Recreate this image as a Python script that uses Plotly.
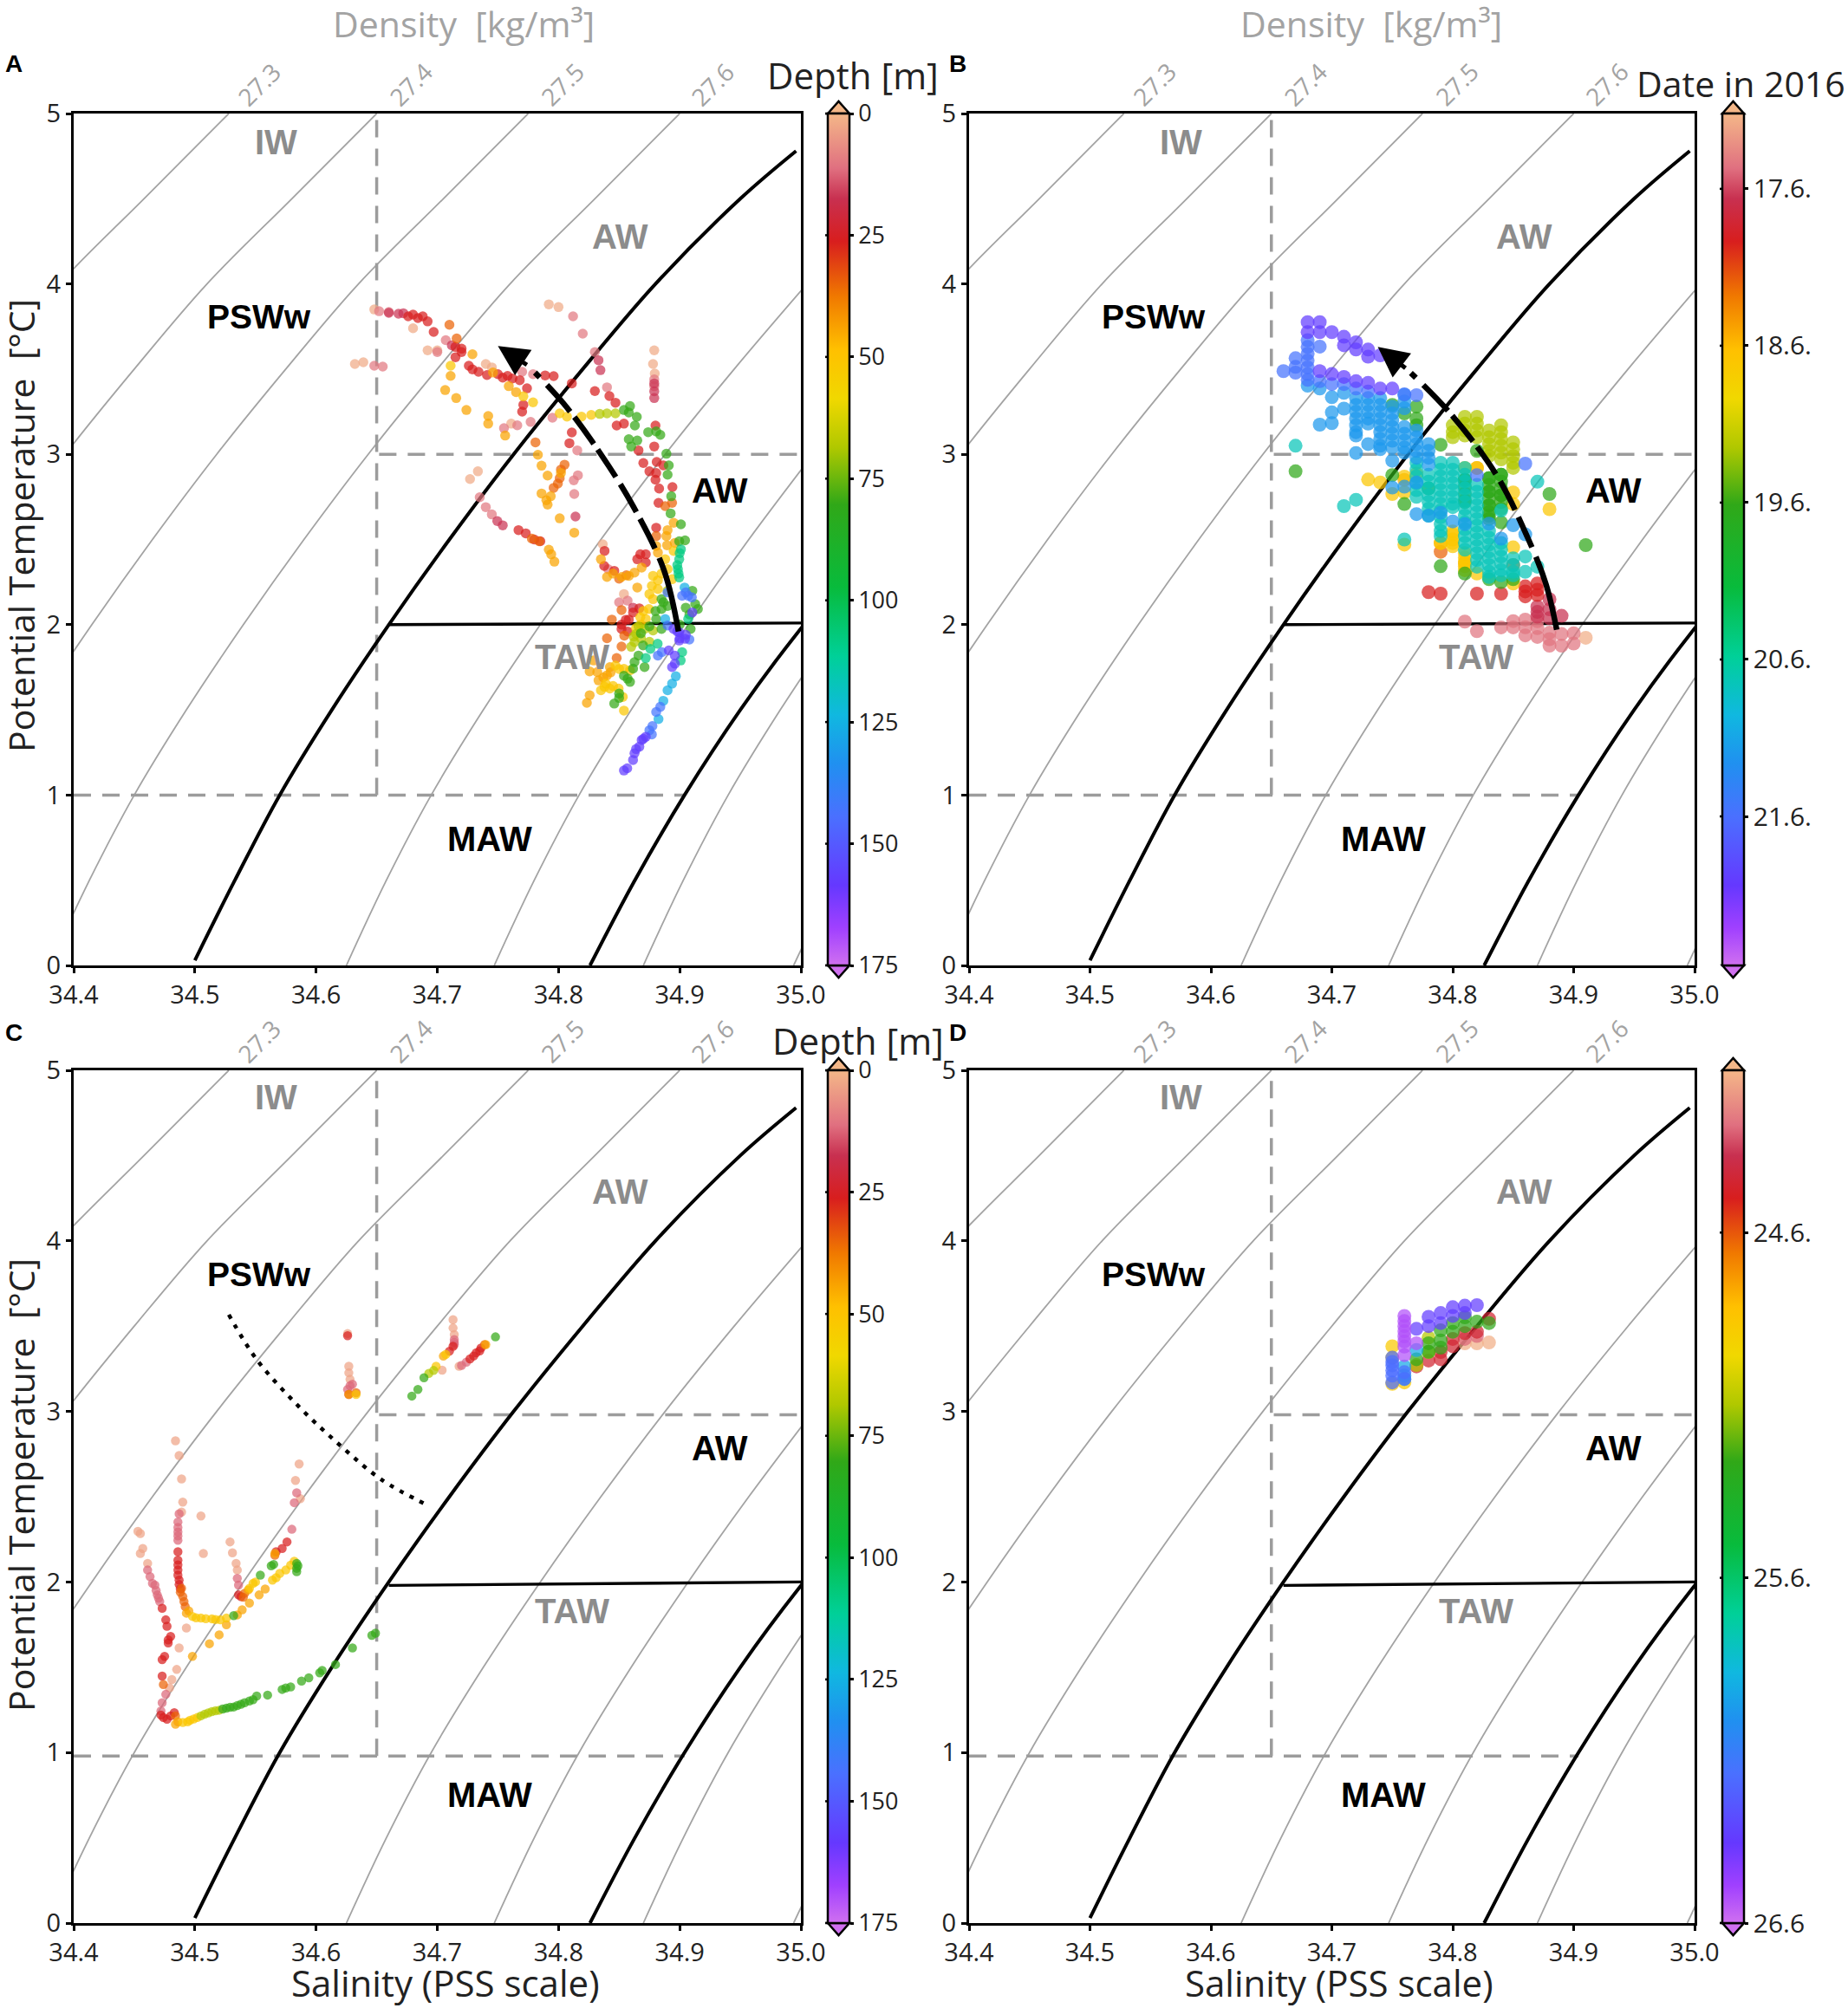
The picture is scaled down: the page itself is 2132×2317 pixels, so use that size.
import plotly.graph_objects as go
from plotly.subplots import make_subplots

W, H = 2132, 2317
TEXT_FONT = "Open Sans"
LABEL_FONT = "Liberation Sans"

# colours shared by the depth and the date colour bars, top of the bar first
BAR_FRACTIONS = [0, .064, .10, .15, .214, .277, .335, .392, .459, .556, .637, .706, .763, .825, .906, .956, 1]
BAR_COLOURS = ["#F4B788", "#E07080", "#C83050", "#D81E1E", "#F07800", "#FFC000", "#F0D800", "#B0C800", "#30A818",
               "#08BB3C", "#00D098", "#10B8E0", "#2090F0", "#4A70FF", "#6538FF", "#A040FF", "#D070F0"]

# isopycnals, read at these temperatures
ISO_T = [0, .5, 1, 1.5, 2, 2.5, 3, 3.5, 4, 4.5, 5]
GREY_S = [
    [34.008, 34.041, 34.078, 34.121, 34.168, 34.218, 34.271, 34.328, 34.388, 34.458, 34.528],
    [34.13, 34.163, 34.2, 34.243, 34.29, 34.34, 34.393, 34.45, 34.51, 34.58, 34.65],
    [34.255, 34.288, 34.325, 34.368, 34.415, 34.465, 34.518, 34.575, 34.635, 34.705, 34.775],
    [34.38, 34.413, 34.45, 34.493, 34.54, 34.59, 34.643, 34.70, 34.76, 34.83, 34.90],
    [34.625, 34.658, 34.695, 34.738, 34.785, 34.835, 34.888, 34.945, 35.005],
    [34.747, 34.78, 34.817, 34.86, 34.907, 34.957, 35.01],
    [34.87, 34.903, 34.94, 34.983, 35.03],
    [34.994, 35.027],
]
BLACK_LEFT_S = [34.5, 34.533, 34.57, 34.613, 34.66, 34.71, 34.763, 34.82, 34.88, 34.95, 34.996]
BLACK_LEFT_T = [0.03, .5, 1, 1.5, 2, 2.5, 3, 3.5, 4, 4.5, 4.78]
BLACK_RIGHT_S = [34.826, 34.863, 34.904, 34.950, 34.998, 35.05]
BLACK_RIGHT_T = [0, .5, 1, 1.5, 1.96, 2.4]
TAW_S = [34.66, 35.0]
TAW_T_TOP = [2.0, 2.01]
TAW_T_BOTTOM = [1.98, 2.0]

DENSITY_LABELS = ["27.3", "27.4", "27.5", "27.6"]
DENSITY_LABEL_S = [34.553, 34.678, 34.803, 34.927]

REGION_TEXT = ["IW", "AW", "PSWw", "AW", "TAW", "MAW"]
REGION_S_LEFT = [34.567, 34.851, 34.553, 34.933, 34.811, 34.743]
REGION_S_RIGHT = [34.575, 34.859, 34.553, 34.933, 34.819, 34.743]
REGION_T_TOP = [4.83, 4.28, 3.805, 2.785, 1.81, 0.745]
REGION_T_BOTTOM = [4.84, 4.29, 3.805, 2.785, 1.83, 0.75]
REGION_COL = ["#8c8c8c", "#8c8c8c", "black", "black", "#8c8c8c", "black"]

# panel A
A_DEPTHS = [2, 10, 17, 26, 35, 44, 51, 68, 80, 108, 126, 143, 157]
A_SAL = [
    [34.648, 34.639, 34.632, 34.792, 34.80, 34.879, 34.878, 34.8794, 34.74, 34.745, 34.761, 34.7335, 34.727, 34.8365,
     34.854, 34.68, 34.692, 34.70],
    [34.652, 34.812, 34.82, 34.707, 34.70, 34.755, 34.766, 34.777, 34.77, 34.779, 34.84, 34.795, 34.8155, 34.816,
     34.8126, 34.813, 34.735, 34.74, 34.745, 34.841, 34.857, 34.85, 34.648, 34.655, 34.83, 34.879, 34.879, 34.66],
    [34.7495, 34.754, 34.833, 34.8346, 34.66, 34.668, 34.712, 34.814, 34.8615, 34.879, 34.879, 34.879, 34.672],
    [34.676, 34.684, 34.692, 34.697, 34.72, 34.715, 34.726, 34.729, 34.734, 34.741, 34.754, 34.762, 34.768, 34.774,
     34.771, 34.77, 34.789, 34.796, 34.811, 34.83, 34.842, 34.847, 34.811, 34.809, 34.767, 34.773, 34.838, 34.8377,
     34.846, 34.8675, 34.872, 34.872, 34.865, 34.848, 34.854, 34.88, 34.879, 34.866, 34.87, 34.881, 34.8865, 34.875,
     34.8806, 34.88, 34.883, 34.894, 34.8825, 34.8806, 34.8667, 34.8555, 34.852, 34.8615, 34.68, 34.688, 34.715,
     34.72, 34.75, 34.758, 34.78, 34.785, 34.858, 34.852, 34.857],
    [34.778, 34.784, 34.7995, 34.805, 34.781, 34.796, 34.888, 34.8937, 34.8806, 34.852, 34.8543, 34.852, 34.848,
     34.844, 34.84, 34.71, 34.716, 34.801, 34.802, 34.85, 34.856],
    [34.729, 34.711, 34.7065, 34.7156, 34.724, 34.742, 34.742, 34.756, 34.746, 34.759, 34.765, 34.783, 34.786, 34.791,
     34.802, 34.7936, 34.791, 34.801, 34.813, 34.792, 34.794, 34.7966, 34.835, 34.852, 34.858, 34.8627, 34.8686,
     34.8806, 34.882, 34.865, 34.895, 34.89, 34.889, 34.8896, 34.896, 34.829, 34.8257, 34.832, 34.8424, 34.84, 34.833,
     34.8257, 34.8234, 34.837, 34.843, 34.786, 34.79, 34.84, 34.845],
    [34.711, 34.771, 34.779, 34.801, 34.807, 34.819, 34.827, 34.888, 34.89, 34.8937, 34.878, 34.877, 34.882, 34.895,
     34.8746, 34.878, 34.872, 34.8675, 34.847, 34.854, 34.859, 34.839, 34.835, 34.8424, 34.8496, 34.853, 34.854,
     34.885, 34.882, 34.875, 34.87, 34.868, 34.864, 34.85, 34.838, 34.845],
    [34.834, 34.84, 34.847, 34.89, 34.878, 34.871, 34.864, 34.8627, 34.868, 34.862, 34.875, 34.86, 34.866],
    [34.854, 34.859, 34.858, 34.8646, 34.863, 34.874, 34.8806, 34.884, 34.858, 34.865, 34.86, 34.889, 34.891, 34.89,
     34.893, 34.8925, 34.901, 34.8996, 34.9044, 34.9104, 34.9128, 34.915, 34.909, 34.8865, 34.885, 34.8806, 34.885,
     34.8698, 34.866, 34.8627, 34.85, 34.846, 34.8615, 34.857, 34.859, 34.871, 34.885, 34.89, 34.88, 34.875, 34.868,
     34.905, 34.908, 34.90, 34.854, 34.85],
    [34.901, 34.8996, 34.8985, 34.8996, 34.907, 34.872, 34.8758, 34.8818, 34.902, 34.9008, 34.90, 34.898, 34.899],
    [34.904, 34.888, 34.8968, 34.8937, 34.89, 34.8865, 34.8825],
    [34.902, 34.907, 34.89, 34.908, 34.882, 34.8853, 34.884, 34.8806, 34.8775, 34.877, 34.89, 34.905, 34.91, 34.875],
    [34.9104, 34.8949, 34.8996, 34.9044, 34.8996, 34.891, 34.896, 34.896, 34.8937, 34.872, 34.8686, 34.8667, 34.8627,
     34.8615, 34.8567, 34.854, 34.898, 34.905, 34.90, 34.864, 34.87],
]
A_THETA = [
    [3.85, 3.54, 3.53, 3.88, 3.864, 3.61, 3.53, 3.474, 3.53, 3.51, 3.18, 2.90, 2.855, 2.472, 2.18, 3.74, 3.61, 3.61],
    [3.84, 3.81, 3.708, 3.67, 3.60, 3.153, 3.17, 3.19, 3.484, 3.47, 3.393, 3.215, 3.023, 2.877, 2.847, 2.767, 2.748,
     2.69, 2.647, 2.326, 2.141, 2.131, 3.52, 3.515, 3.60, 3.44, 3.40, 3.835],
    [2.608, 2.583, 3.552, 3.494, 3.83, 3.825, 3.64, 2.635, 2.10, 3.416, 3.37, 3.33, 3.828],
    [3.81, 3.80, 3.78, 3.718, 3.62, 3.57, 3.52, 3.498, 3.484, 3.465, 3.45, 3.445, 3.435, 3.387, 3.29, 3.25, 3.463,
     3.459, 3.416, 3.371, 3.342, 3.303, 3.128, 3.065, 2.555, 2.536, 2.433, 2.345, 2.316, 2.413, 2.413, 2.365, 2.384,
     3.169, 3.18, 3.169, 3.046, 3.023, 2.949, 2.955, 2.935, 2.90, 2.89, 2.851, 2.799, 2.808, 2.715, 2.569, 2.096,
     2.028, 1.975, 2.072, 3.82, 3.81, 3.63, 3.60, 3.47, 3.46, 2.50, 2.49, 2.03, 2.0, 1.96],
    [2.505, 2.49, 2.828, 2.939, 3.07, 2.803, 2.696, 2.715, 2.52, 2.086, 1.936, 1.872, 1.804, 2.03, 1.92, 3.76, 3.68,
     2.86, 2.91, 2.27, 2.29],
    [3.587, 3.46, 3.377, 3.33, 3.26, 3.225, 3.18, 3.11, 3.48, 3.40, 3.365, 2.997, 2.933, 2.875, 2.89, 2.754, 2.705,
     2.624, 2.54, 2.44, 2.413, 2.37, 2.384, 2.28, 2.287, 2.306, 2.335, 2.462, 2.423, 2.218, 2.598, 2.555, 2.52, 2.466,
     2.48, 1.79, 1.726, 1.722, 1.751, 1.703, 1.673, 1.586, 1.541, 1.69, 1.72, 2.77, 2.73, 2.28, 2.30],
    [3.52, 3.34, 3.305, 3.24, 3.221, 3.221, 3.231, 2.384, 2.326, 2.267, 2.287, 2.228, 2.209, 2.433, 2.092, 2.15, 2.033,
     2.043, 1.76, 1.741, 1.732, 1.654, 1.615, 1.625, 1.625, 1.576, 1.496, 2.30, 2.26, 2.18, 2.08, 2.00, 1.98, 1.74,
     1.635, 1.64],
    [3.237, 3.24, 3.24, 2.199, 1.966, 1.975, 1.946, 1.897, 1.92, 1.93, 1.90, 1.87, 1.99],
    [3.26, 3.283, 3.245, 3.22, 3.169, 3.13, 3.134, 3.114, 3.089, 3.081, 3.046, 3.003, 2.935, 2.88, 2.754, 2.653, 2.589,
     2.49, 2.495, 2.199, 2.121, 2.092, 1.975, 2.131, 2.092, 2.033, 1.975, 1.878, 1.819, 1.78, 1.596, 1.537, 1.742,
     1.683, 1.664, 1.751, 2.15, 2.11, 2.08, 1.99, 1.95, 2.10, 2.06, 2.0, 1.70, 1.57],
    [2.442, 2.384, 2.326, 2.277, 2.033, 1.804, 1.858, 1.888, 1.839, 1.79, 2.42, 2.35, 2.30],
    [2.218, 2.033, 1.697, 1.654, 1.615, 1.553, 1.446],
    [2.17, 2.17, 1.995, 1.913, 1.819, 1.839, 1.518, 1.488, 1.405, 1.356, 2.19, 2.19, 2.16, 1.38],
    [2.072, 1.975, 1.956, 1.917, 1.907, 1.849, 1.819, 1.771, 1.751, 1.342, 1.323, 1.284, 1.245, 1.206, 1.157, 1.144,
     1.96, 1.94, 1.92, 1.27, 1.33],
]

# panel B, date in June 2016 for each colour group
B_DATES = [17.17, 17.45, 17.66, 17.93, 18.2, 18.5, 18.7, 19.24, 19.62, 20.75, 21.2, 21.57, 22.0]
B_SAL = [
    [34.91],
    [34.81, 34.82, 34.84, 34.85, 34.85, 34.86, 34.86, 34.87, 34.87, 34.88, 34.88, 34.89, 34.89, 34.90, 34.90, 34.86,
     34.87, 34.88],
    [34.87, 34.87, 34.88, 34.88, 34.88, 34.89, 34.87],
    [34.78, 34.79, 34.82, 34.84, 34.86, 34.86, 34.87, 34.87, 34.86, 34.87],
    [34.79, 34.85],
    [34.79, 34.81, 34.82, 34.76],
    [34.73, 34.74, 34.75, 34.76, 34.76, 34.77, 34.79, 34.80, 34.80, 34.81, 34.81, 34.81, 34.82, 34.82, 34.85, 34.85,
     34.88, 34.76, 34.85, 34.85, 34.81, 34.81, 34.81, 34.80, 34.80, 34.80],
    [34.80, 34.80, 34.80,
     34.81, 34.81, 34.81, 34.81,
     34.82, 34.82, 34.82, 34.82,
     34.83, 34.83, 34.83, 34.83, 34.83,
     34.84, 34.84, 34.84, 34.84, 34.84, 34.84,
     34.85, 34.85, 34.85, 34.85, 34.85],
    [34.76, 34.75, 34.77, 34.77, 34.77, 34.79, 34.67, 34.75, 34.76, 34.78, 34.81, 34.81, 34.83, 34.83, 34.83, 34.83,
     34.84, 34.84, 34.84, 34.79, 34.81, 34.83, 34.84, 34.85, 34.88, 34.91, 34.82,
     34.83, 34.83, 34.83, 34.83, 34.83, 34.83, 34.83,
     34.84, 34.84, 34.84, 34.84, 34.84, 34.84,
     34.81, 34.81, 34.81, 34.81],
    [34.67, 34.72, 34.71, 34.87, 34.76, 34.86, 34.86, 34.87,
     34.77, 34.77, 34.77, 34.77, 34.77, 34.77,
     34.78, 34.78, 34.78, 34.78, 34.78, 34.78, 34.78,
     34.79, 34.79, 34.79, 34.79, 34.79, 34.79, 34.79, 34.79, 34.79, 34.79, 34.79, 34.79,
     34.80, 34.80, 34.80, 34.80, 34.80, 34.80, 34.80, 34.80,
     34.81, 34.81, 34.81, 34.81, 34.81, 34.81, 34.81, 34.81, 34.81, 34.81, 34.81, 34.81, 34.81,
     34.82, 34.82, 34.82, 34.82, 34.82, 34.82, 34.82, 34.82, 34.82, 34.82, 34.82, 34.82, 34.82,
     34.83, 34.83, 34.83, 34.83, 34.83, 34.83, 34.83, 34.83,
     34.84, 34.84, 34.84, 34.84, 34.84, 34.84, 34.84,
     34.85, 34.85, 34.85, 34.85],
    [34.68, 34.69, 34.70, 34.71, 34.71, 34.70, 34.70, 34.69, 34.72, 34.75, 34.76, 34.75, 34.77, 34.77, 34.78, 34.79,
     34.80, 34.81, 34.83, 34.85, 34.86, 34.84,
     34.72, 34.72, 34.72, 34.72, 34.72, 34.72, 34.72,
     34.73, 34.73, 34.73, 34.73, 34.73, 34.73,
     34.74, 34.74, 34.74, 34.74, 34.74, 34.74, 34.74, 34.74, 34.74,
     34.75, 34.75, 34.75, 34.75, 34.75, 34.75, 34.75,
     34.76, 34.76, 34.76, 34.76, 34.76, 34.76, 34.76, 34.76,
     34.77, 34.77, 34.77, 34.77, 34.77,
     34.78, 34.78, 34.78, 34.78],
    [34.68, 34.68, 34.68, 34.68, 34.68, 34.68, 34.69, 34.67, 34.67, 34.66, 34.67, 34.68, 34.69, 34.70, 34.71, 34.72,
     34.73, 34.76, 34.77, 34.86, 34.82],
    [34.68, 34.69, 34.68, 34.69, 34.70, 34.71, 34.71, 34.72, 34.72, 34.73, 34.73, 34.74, 34.69, 34.70, 34.71, 34.72,
     34.73, 34.74, 34.75],
]
B_THETA = [
    [1.923],
    [2.018, 1.962, 1.984, 2.021, 1.984, 2.03, 1.937, 2.02, 1.928, 1.953, 1.877, 1.945, 1.877, 1.95, 1.889, 1.985, 1.98,
     1.915],
    [2.106, 2.047, 2.149, 2.09, 2.038, 2.052, 2.075],
    [2.191, 2.182, 2.182, 2.182, 2.225, 2.166, 2.242, 2.174, 2.195, 2.205],
    [2.428, 2.35],
    [2.479, 2.36, 2.92, 2.85],
    [2.852, 2.835, 2.767, 2.869, 2.776, 2.886, 2.479, 2.547, 2.479, 2.92, 2.394, 2.343, 2.92, 2.30, 2.776, 2.708,
     2.678, 2.47, 2.242, 2.454, 2.37, 2.42, 2.32, 2.53, 2.50, 2.46],
    [3.17, 3.13, 3.10,
     3.22, 3.18, 3.14, 3.11,
     3.22, 3.18, 3.14, 3.10,
     3.14, 3.10, 3.06, 3.02, 2.99,
     3.17, 3.13, 3.09, 3.05, 3.01, 2.97,
     3.07, 3.03, 2.99, 2.95, 2.92],
    [3.24, 3.29, 3.28, 3.21, 3.17, 3.056, 2.90, 2.878, 2.708, 2.80, 2.85, 2.72, 2.86, 2.78, 2.70, 2.64, 2.88, 2.76,
     2.60, 2.343, 2.30, 2.267, 2.25, 2.267, 2.767, 2.467, 3.02,
     2.86, 2.82, 2.78, 2.74, 2.70, 2.66, 2.62,
     2.88, 2.84, 2.80, 2.76, 2.72, 2.68,
     2.85, 2.81, 2.77, 2.73],
    [3.05, 2.733, 2.696, 2.839, 2.50, 2.40, 2.31, 2.34,
     2.95, 2.91, 2.87, 2.83, 2.79, 2.75,
     2.88, 2.84, 2.80, 2.76, 2.72, 2.68, 2.64,
     2.95, 2.91, 2.87, 2.83, 2.79, 2.75, 2.71, 2.67, 2.63, 2.59, 2.55, 2.52,
     2.95, 2.91, 2.87, 2.83, 2.79, 2.75, 2.71, 2.69,
     2.92, 2.88, 2.84, 2.80, 2.76, 2.72, 2.68, 2.64, 2.60, 2.56, 2.52, 2.48, 2.44,
     2.82, 2.78, 2.74, 2.70, 2.66, 2.62, 2.58, 2.54, 2.50, 2.46, 2.42, 2.38, 2.34,
     2.55, 2.51, 2.47, 2.43, 2.39, 2.35, 2.31, 2.28,
     2.67, 2.48, 2.44, 2.40, 2.36, 2.32, 2.29,
     2.39, 2.35, 2.31, 2.29],
    [3.403, 3.386, 3.335, 3.361, 3.268, 3.246, 3.183, 3.174, 3.008, 2.962, 2.81, 2.805, 2.835, 2.649, 2.64, 2.657,
     2.606, 2.59, 2.593, 2.584, 2.53, 2.505,
     3.33, 3.29, 3.25, 3.21, 3.17, 3.13, 3.11,
     3.33, 3.29, 3.25, 3.21, 3.18, 3.06,
     3.33, 3.29, 3.25, 3.21, 3.17, 3.13, 3.09, 3.05, 3.03,
     3.28, 3.24, 3.20, 3.16, 3.12, 3.08, 3.04,
     3.35, 3.31, 3.27, 3.16, 3.12, 3.08, 3.04, 3.01,
     3.14, 3.10, 3.06, 3.02, 2.98,
     3.06, 3.02, 2.98, 2.94],
    [3.67, 3.63, 3.59, 3.55, 3.51, 3.47, 3.632, 3.564, 3.513, 3.488, 3.479, 3.437, 3.429, 3.412, 3.412, 3.386, 3.369,
     3.352, 3.347, 2.945, 2.878],
    [3.776, 3.776, 3.717, 3.717, 3.717, 3.69, 3.64, 3.657, 3.615, 3.615, 3.573, 3.581, 3.488, 3.471, 3.454, 3.429, 3.42,
     3.386, 3.386],
]

# panel C
C_DEPTHS = [3, 12, 26, 35, 44, 51, 68, 80]
C_SAL = [
    [34.626, 34.627, 34.627, 34.628, 34.713, 34.713, 34.714, 34.704, 34.718, 34.484, 34.487, 34.489, 34.49, 34.489,
     34.505, 34.453, 34.455, 34.457, 34.455, 34.507, 34.529, 34.531, 34.586, 34.583, 34.587, 34.534, 34.535, 34.493,
     34.487, 34.485, 34.481, 34.479, 34.461],
    [34.461, 34.463, 34.465, 34.626, 34.63, 34.714, 34.714, 34.72, 34.724, 34.487, 34.486, 34.486, 34.486, 34.584,
     34.582, 34.58, 34.535, 34.536, 34.467, 34.469, 34.471, 34.476, 34.473, 34.472, 34.486, 34.486, 34.468, 34.47,
     34.628, 34.714],
    [34.626, 34.713, 34.71, 34.727, 34.732, 34.736, 34.627, 34.486, 34.486, 34.486, 34.487, 34.486, 34.473, 34.476,
     34.477, 34.48, 34.478, 34.475, 34.473, 34.473, 34.474, 34.477, 34.483, 34.567, 34.572, 34.576, 34.536, 34.538,
     34.486, 34.487, 34.488, 34.478, 34.73, 34.735, 34.472, 34.48],
    [34.489, 34.49, 34.492, 34.474, 34.484, 34.541, 34.566, 34.633, 34.739, 34.488, 34.491, 34.54],
    [34.493, 34.484, 34.498, 34.512, 34.52, 34.526, 34.535, 34.539, 34.545, 34.553, 34.558, 34.627, 34.74, 34.566,
     34.544, 34.705, 34.495, 34.486],
    [34.498, 34.505, 34.514, 34.521, 34.526, 34.49, 34.496, 34.502, 34.548, 34.545, 34.564, 34.567, 34.575, 34.579,
     34.582, 34.633, 34.707, 34.699, 34.501, 34.509, 34.517, 34.494, 34.499, 34.55, 34.57],
    [34.508, 34.514, 34.52, 34.693, 34.505, 34.511, 34.517, 34.697],
    [34.526, 34.532, 34.538, 34.545, 34.551, 34.56, 34.572, 34.579, 34.588, 34.594, 34.603, 34.605, 34.616, 34.63,
     34.646, 34.649, 34.532, 34.554, 34.563, 34.565, 34.584, 34.584, 34.689, 34.684, 34.679, 34.748, 34.523, 34.529,
     34.535, 34.541, 34.548, 34.575, 34.585, 34.584],
]
C_THETA = [
    [3.456, 3.265, 3.226, 3.188, 3.538, 3.489, 3.45, 3.242, 3.265, 2.828, 2.741, 2.604, 2.468, 2.41, 2.387, 2.297, 2.284,
     2.196, 2.167, 2.167, 2.235, 2.171, 2.692, 2.595, 2.488, 2.109, 2.07, 1.73, 1.613, 1.487, 1.428, 1.38, 2.109],
    [2.07, 2.031, 1.992, 3.129, 3.159, 3.421, 3.392, 3.27, 3.289, 2.40, 2.352, 2.293, 2.245, 2.523, 2.465, 2.309, 2.021,
     1.982, 1.982, 1.924, 1.885, 1.341, 1.292, 1.244, 2.32, 2.27, 1.95, 1.905, 3.15, 3.405],
    [3.444, 3.382, 3.353, 3.308, 3.343, 3.372, 3.1, 2.177, 2.128, 2.07, 2.011, 2.10, 1.846, 1.778, 1.74, 1.681, 1.642,
     1.564, 1.545, 1.448, 1.205, 1.195, 1.234, 2.177, 2.196, 2.235, 1.924, 1.914, 2.04, 1.985, 1.96, 1.66, 3.325, 3.355,
     1.22, 1.215],
    [1.963, 1.914, 1.856, 1.399, 1.215, 1.934, 2.157, 3.11, 3.392, 1.94, 1.885, 1.91],
    [1.817, 1.166, 1.564, 1.638, 1.69, 1.749, 1.807, 1.837, 1.876, 1.924, 1.959, 3.1, 3.392, 2.167, 1.953, 3.324, 1.83,
     1.18],
    [1.798, 1.788, 1.784, 1.778, 1.788, 1.176, 1.189, 1.205, 1.992, 1.963, 2.011, 2.025, 2.07, 2.099, 2.122, 3.1, 3.334,
     3.265, 1.79, 1.785, 1.78, 1.18, 1.197, 2.0, 2.05],
    [1.224, 1.24, 1.248, 3.223, 1.215, 1.232, 1.245, 3.24],
    [1.26, 1.267, 1.283, 1.302, 1.331, 1.337, 1.37, 1.385, 1.419, 1.438, 1.467, 1.481, 1.516, 1.613, 1.687, 1.70, 1.803,
     2.04, 2.095, 2.103, 2.08, 2.109, 3.197, 3.129, 3.09, 3.437, 1.255, 1.265, 1.275, 1.292, 1.31, 1.378, 2.095, 2.06],
]

# panel D
D_DATES = [24.15, 24.3, 24.45, 24.87, 25.09, 25.27, 25.93, 26.18, 26.35, 26.53]
D_SAL = [
    [34.81, 34.82, 34.83],
    [34.81, 34.82],
    [34.77, 34.78, 34.79, 34.79, 34.80, 34.80, 34.81, 34.82, 34.83],
    [34.75, 34.75, 34.75, 34.76],
    [34.77, 34.78, 34.78],
    [34.77, 34.78, 34.78, 34.79, 34.79, 34.79, 34.80, 34.80, 34.81, 34.81, 34.82, 34.83],
    [34.76, 34.76, 34.76, 34.77],
    [34.75, 34.75, 34.75, 34.75, 34.75, 34.75, 34.76, 34.76],
    [34.77, 34.78, 34.78, 34.79, 34.79, 34.80, 34.80, 34.81, 34.81, 34.82],
    [34.76, 34.76, 34.76, 34.76, 34.76, 34.76, 34.76, 34.76, 34.77],
]
D_THETA = [
    [3.399, 3.399, 3.404],
    [3.425, 3.442],
    [3.264, 3.298, 3.306, 3.348, 3.382, 3.425, 3.459, 3.467, 3.543],
    [3.382, 3.315, 3.162, 3.17],
    [3.272, 3.433, 3.348],
    [3.306, 3.40, 3.35, 3.475, 3.416, 3.374, 3.518, 3.467, 3.552, 3.50, 3.526, 3.518],
    [3.264, 3.21, 3.19, 3.36],
    [3.315, 3.29, 3.27, 3.24, 3.21, 3.17, 3.19, 3.23],
    [3.484, 3.555, 3.50, 3.577, 3.518, 3.611, 3.56, 3.62, 3.577, 3.623],
    [3.56, 3.53, 3.50, 3.47, 3.44, 3.41, 3.38, 3.33, 3.40],
]

# flow arrows and the dotted divide in panel C
ARROW_A_S = [34.899, 34.887, 34.862, 34.835, 34.804, 34.775]
ARROW_A_T = [1.96, 2.32, 2.69, 3.0, 3.3, 3.52]
ARROW_B_S = [34.886, 34.877, 34.862, 34.836, 34.798, 34.762]
ARROW_B_T = [1.97, 2.24, 2.51, 2.88, 3.24, 3.5]
DIVIDE_S = [34.528, 34.551, 34.585, 34.62, 34.654, 34.692]
DIVIDE_T = [3.567, 3.304, 3.034, 2.8, 2.6, 2.45]

DEPTH_TICKS = [0, 25, 50, 75, 100, 125, 150, 175]
DATE_B_TICKS = [17.6, 18.6, 19.6, 20.6, 21.6]
DATE_B_TEXT = ["17.6.", "18.6.", "19.6.", "20.6.", "21.6."]
DATE_D_TICKS = [24.6, 25.6, 26.6]
DATE_D_TEXT = ["24.6.", "25.6.", "26.6"]

# plot boxes in pixels: left, right, top, bottom
BOXES = [(85, 924, 131, 1114), (1118, 1955, 131, 1114), (85, 924, 1235, 2219), (1118, 1955, 1235, 2219)]
BARS = [(955, 131, 1114), (1987, 131, 1114), (955, 1235, 2219), (1987, 1235, 2219)]

fig = make_subplots(rows=2, cols=2)
colorscale = [[round(1 - f, 3), c] for f, c in zip(BAR_FRACTIONS, BAR_COLOURS)][::-1]


def flat(values, groups):
    # one value per point from the per-colour lists
    out = []
    for v, g in zip(values, groups):
        out.extend([v] * len(g))
    return out


def merge(groups):
    return [x for g in groups for x in g]


def add_frame(row, col, dash_low, dash_high, taw_t):
    kw = dict(row=row, col=col)
    grey = dict(mode="lines", hoverinfo="skip", showlegend=False, line=dict(color="#a3a3a3", width=1.8, shape="spline"))
    for s in GREY_S:
        fig.add_trace(go.Scatter(x=s, y=ISO_T[:len(s)], **grey), **kw)
    dash = dict(mode="lines", hoverinfo="skip", showlegend=False, line=dict(color="#9c9c9c", width=3.5, dash="20px,13px"))
    fig.add_trace(go.Scatter(x=[34.65, 34.65], y=[dash_low, 5], **dash), **kw)
    fig.add_trace(go.Scatter(x=[34.652, 35.0], y=[dash_high, dash_high], **dash), **kw)
    fig.add_trace(go.Scatter(x=[34.4, 34.904], y=[dash_low, dash_low], **dash), **kw)
    black = dict(mode="lines", hoverinfo="skip", showlegend=False, line=dict(color="black", width=4, shape="spline"))
    fig.add_trace(go.Scatter(x=BLACK_LEFT_S, y=BLACK_LEFT_T, **black), **kw)
    fig.add_trace(go.Scatter(x=BLACK_RIGHT_S, y=BLACK_RIGHT_T, **black), **kw)
    fig.add_trace(go.Scatter(x=TAW_S, y=taw_t, mode="lines", hoverinfo="skip", showlegend=False,
                             line=dict(color="black", width=3.4)), **kw)


def add_points(row, col, sal, theta, colour, size, vmin, vmax, ticks, ticktext, bar, font_size):
    assert len(sal) == len(theta) == len(colour)
    x0, top, bottom = bar
    fig.add_trace(go.Scatter(
        x=sal, y=theta, mode="markers", showlegend=False,
        marker=dict(
            size=size, color=[-c for c in colour], opacity=0.72, colorscale=colorscale,
            cmin=-vmax, cmax=-vmin, showscale=True, line=dict(width=0),
            colorbar=dict(
                x=x0 / W, xanchor="left", xpad=0, y=1 - top / H, yanchor="top", ypad=0,
                len=(bottom - top) / H, lenmode="fraction", thickness=25, thicknessmode="pixels",
                outlinecolor="black", outlinewidth=2.5, ticks="outside", ticklen=4, tickwidth=2.5, tickcolor="black",
                tickvals=[-t for t in ticks], ticktext=ticktext,
                tickfont=dict(family=TEXT_FONT, size=font_size, color="#222222"),
            ),
        ),
    ), row=row, col=col)
    # the bar ticks also show on the left edge
    for t in ticks:
        y = 1 - (top + (t - vmin) / (vmax - vmin) * (bottom - top)) / H
        fig.add_shape(type="line", xref="paper", yref="paper", x0=(x0 - 3) / W, x1=(x0 + 6) / W, y0=y, y1=y,
                      line=dict(color="black", width=2.5))


def add_arrow(row, col, sal, theta, tip):
    fig.add_trace(go.Scatter(
        x=sal, y=theta, mode="lines", hoverinfo="skip", showlegend=False,
        line=dict(color="black", width=6.5, shape="spline",
                  dash="88px,12px,38px,9px,37px,10px,38px,8px,38px,8px,41px,12px,8px,200px"),
    ), row=row, col=col)
    n = (row - 1) * 2 + col
    ref = "" if n == 1 else str(n)
    fig.add_annotation(x=tip[0], y=tip[1], ax=sal[-1], ay=theta[-1], xref="x" + ref, yref="y" + ref,
                       axref="x" + ref, ayref="y" + ref, text="", showarrow=True, arrowhead=2, arrowsize=1.4,
                       arrowwidth=5, arrowcolor="black")


add_frame(1, 1, 1.0, 3.0, TAW_T_TOP)
add_frame(1, 2, 1.0, 3.0, TAW_T_TOP)
add_frame(2, 1, 0.98, 2.98, TAW_T_BOTTOM)
add_frame(2, 2, 0.98, 2.98, TAW_T_BOTTOM)

add_points(1, 1, merge(A_SAL), merge(A_THETA), flat(A_DEPTHS, A_SAL), 11.5, 0, 175, DEPTH_TICKS,
           [str(t) for t in DEPTH_TICKS], BARS[0], 27)
add_points(1, 2, merge(B_SAL), merge(B_THETA), flat(B_DATES, B_SAL), 16, 17.12, 22.55, DATE_B_TICKS, DATE_B_TEXT,
           BARS[1], 30)
add_points(2, 1, merge(C_SAL), merge(C_THETA), flat(C_DEPTHS, C_SAL), 10.5, 0, 175, DEPTH_TICKS,
           [str(t) for t in DEPTH_TICKS], BARS[2], 27)
add_points(2, 2, merge(D_SAL), merge(D_THETA), flat(D_DATES, D_SAL), 16, 24.13, 26.6, DATE_D_TICKS, DATE_D_TEXT,
           BARS[3], 30)

add_arrow(1, 1, ARROW_A_S, ARROW_A_T, (34.75, 3.636))
add_arrow(1, 2, ARROW_B_S, ARROW_B_T, (34.738, 3.63))
fig.add_trace(go.Scatter(x=DIVIDE_S, y=DIVIDE_T, mode="lines", hoverinfo="skip", showlegend=False,
                         line=dict(color="black", width=4.5, shape="spline", dash="5px,8px")), row=2, col=1)


def page_text(x, y, text, size, colour="#222222", family=TEXT_FONT, angle=0):
    fig.add_annotation(x=x / W, y=1 - y / H, xref="paper", yref="paper", xanchor="center", yanchor="middle",
                       text=text, showarrow=False, textangle=angle, font=dict(family=family, size=size, color=colour))


# axes
for n, (left, right, top, bottom) in enumerate(BOXES, start=1):
    ref = "" if n == 1 else str(n)
    common = dict(showgrid=False, zeroline=False, showline=True, mirror=True, linecolor="black", linewidth=3,
                  ticks="outside", ticklen=6, tickwidth=2.5, tickcolor="black",
                  tickfont=dict(family=TEXT_FONT, size=29, color="#222222"))
    fig.layout["xaxis" + ref].update(domain=[left / W, right / W], range=[34.4, 35.0], tickmode="array",
                                     tickvals=[34.4, 34.5, 34.6, 34.7, 34.8, 34.9, 35.0], tickformat=".1f", **common)
    fig.layout["yaxis" + ref].update(domain=[1 - bottom / H, 1 - top / H], range=[0, 5], tickmode="array",
                                     tickvals=[0, 1, 2, 3, 4, 5], **common)
    xr, yr = "x" + ref, "y" + ref
    region_s = REGION_S_LEFT if n % 2 else REGION_S_RIGHT
    region_t = REGION_T_TOP if n < 3 else REGION_T_BOTTOM
    for text, s, t, colour in zip(REGION_TEXT, region_s, region_t, REGION_COL):
        fig.add_annotation(x=s, y=t, xref=xr, yref=yr, text="<b>%s</b>" % text, showarrow=False,
                           font=dict(family=LABEL_FONT, size=39 if text == "PSWw" else 40, color=colour))
    # above the frame, so placed on the page and not on the axis
    for text, s in zip(DENSITY_LABELS, DENSITY_LABEL_S):
        page_text(left + (s - 34.4) / 0.6 * (right - left), top - 34, text, 28, "#a3a3a3", angle=-45)

    # extend triangles on the colour bars
    bar_x, bar_top, bar_bottom = BARS[n - 1]
    bx0, bxm, bx1 = bar_x / W, (bar_x + 12.5) / W, (bar_x + 25) / W
    ty, tt = 1 - bar_top / H, 1 - (bar_top - 14) / H
    by, bb = 1 - bar_bottom / H, 1 - (bar_bottom + 14) / H
    fig.add_shape(type="path", xref="paper", yref="paper", fillcolor="#F4B788", line=dict(color="black", width=2.5),
                  path="M %f %f L %f %f L %f %f Z" % (bx0, ty, bxm, tt, bx1, ty))
    fig.add_shape(type="path", xref="paper", yref="paper", fillcolor="#D070F0", line=dict(color="black", width=2.5),
                  path="M %f %f L %f %f L %f %f Z" % (bx0, by, bxm, bb, bx1, by))

page_text(535, 27, "Density  [kg/m³]", 41, "#a3a3a3")
page_text(1582, 27, "Density  [kg/m³]", 41, "#a3a3a3")
page_text(984, 87, "Depth [m]", 42)
page_text(2008, 96, "Date in 2016", 41)
page_text(990, 1200, "Depth [m]", 42)
page_text(24, 607, "Potential Temperature  [°C]", 41, angle=-90)
page_text(24, 1714, "Potential Temperature  [°C]", 41, angle=-90)
page_text(514, 2287, "Salinity (PSS scale)", 42)
page_text(1545, 2287, "Salinity (PSS scale)", 42)
page_text(16, 74, "<b>A</b>", 28, "black", LABEL_FONT)
page_text(1105, 74, "<b>B</b>", 28, "black", LABEL_FONT)
page_text(16, 1191, "<b>C</b>", 28, "black", LABEL_FONT)
page_text(1105, 1191, "<b>D</b>", 28, "black", LABEL_FONT)

fig.update_layout(width=W, height=H, margin=dict(l=0, r=0, t=0, b=0, autoexpand=False), paper_bgcolor="white",
                  plot_bgcolor="white", showlegend=False)
fig.write_html("out.html", config={"displayModeBar": False}, post_script="document.body.style.margin='0';")
